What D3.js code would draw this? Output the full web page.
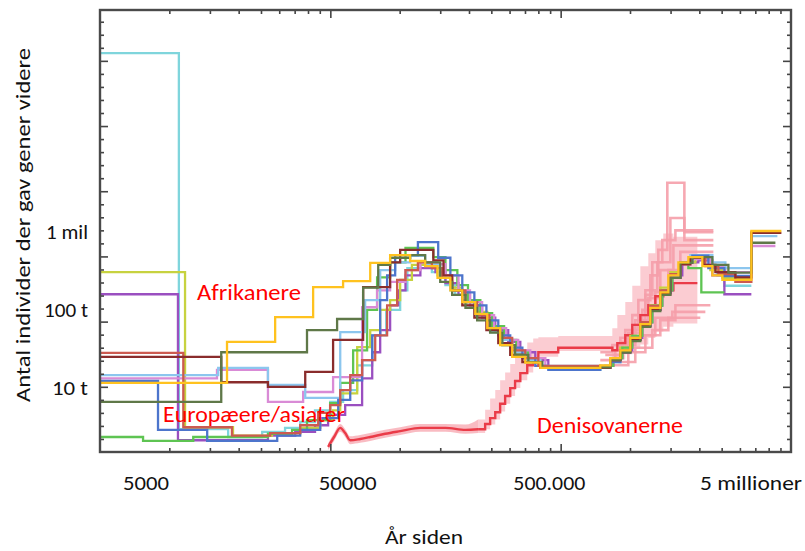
<!DOCTYPE html>
<html><head><meta charset="utf-8">
<script src="https://cdn.jsdelivr.net/npm/d3@7"></script>
<style>
body{margin:0;background:#fff;}
svg{display:block;}
text{font-family:'Liberation Sans Narrow','Carlito','Liberation Sans',sans-serif;}
</style>
</head><body>
<svg id="c" width="805" height="551"></svg>
<script>
// ---------- data (time in thousand years, population in units of 10^4) ----------
const xTickValues = [5, 50, 500, 5000];
const xTickLabels = ["5000", "50000", "500.000", "5 millioner"];
const yTickValues = [1e4, 1e5, 1e6];
const yTickLabels = ["10 t", "100 t", "1 mil"];

const cyanSteps = [[5,6.12],[11.0,0.35],[18.0,0.23],[25.3,0.31],[31.8,0.37],[37.0,0.46],[42.9,0.64],[49.9,0.77],[56.8,0.95],[65.4,1.33],[76.0,1.79],[87.4,2.18],[100.5,2.48],[108,2.82],[123,2.87],[138,2.76],[158,2.56],[174,2.41],[196,2.25],[219,2.06],[247,1.84],[279,1.64],[317,1.49],[362,1.38],[416,1.29],[498,1.26],[743,1.29],[821,1.38],[908,1.53],[1003,1.72],[1109,1.95],[1225,2.21],[1354,2.45],[1497,2.68],[1654,2.90],[1828,2.98],[2124,2.87],[2395,2.71],[2569,2.55],[3364,2.55]];
const yellowGreenSteps = [[5,2.76],[11.7,0.38],[18.9,0.25],[27.9,0.29],[37.0,0.37],[45.2,0.49],[51.4,0.64],[55.2,0.90],[65.4,1.61],[74.5,1.87],[82.3,2.18],[90.9,2.33],[100.5,2.64],[113,2.87],[129,2.91],[146,2.71],[166,2.52],[187,2.33],[213,2.15],[240,1.93],[273,1.72],[308,1.53],[351,1.41],[408,1.30],[743,1.32],[821,1.44],[908,1.60],[1003,1.78],[1109,1.99],[1225,2.25],[1354,2.52],[1497,2.76],[1654,2.91],[1922,2.98],[2233,2.79],[2518,2.67],[3364,2.67]];
const purpleSteps = [[5,2.42],[10.9,0.18],[26.8,0.25],[35.2,0.31],[42.9,0.41],[48.9,0.57],[58.0,0.72],[68.7,1.13],[76.0,1.53],[82.3,1.87],[90.9,2.25],[98.5,2.48],[106,2.71],[123,2.82],[143,2.76],[158,2.59],[180,2.41],[202,2.25],[228,2.06],[260,1.87],[296,1.69],[334,1.53],[388,1.41],[442,1.29],[781,1.32],[846,1.44],[926,1.56],[1023,1.75],[1131,1.99],[1250,2.25],[1381,2.48],[1527,2.71],[1687,2.91],[1980,2.94],[2278,2.71],[2569,2.42],[3364,2.42]];
const redSteps = [[5,1.52],[11.5,0.38],[18.7,0.25],[27.4,0.29],[37.0,0.41],[44.3,0.60],[49.9,0.72],[55.2,0.95],[61.0,1.18],[68.7,1.41],[78.3,1.79],[88.2,2.25],[97.5,2.64],[106,2.79],[120,2.91],[138,2.82],[153,2.67],[169,2.48],[193,2.30],[217,2.10],[245,1.90],[273,1.75],[308,1.56],[351,1.44],[400,1.32],[743,1.30],[821,1.41],[908,1.56],[1003,1.75],[1109,1.99],[1225,2.24],[1354,2.48],[1497,2.73],[1654,2.90],[1828,2.98],[2124,2.85],[2419,2.73],[2867,2.61],[3364,3.37],[4452,3.37]];
const darkRedSteps = [[5,1.46],[16.8,1.07],[26.8,1.00],[38.9,1.23],[51.4,1.72],[69.4,2.53],[90.9,2.91],[100.5,3.10],[140,2.94],[155,2.71],[169,2.48],[187,2.25],[211,2.06],[238,1.87],[268,1.67],[302,1.49],[341,1.38],[408,1.29],[743,1.29],[821,1.41],[908,1.53],[1003,1.72],[1109,1.93],[1225,2.18],[1354,2.42],[1497,2.67],[1654,2.88],[1828,2.98],[2082,2.87],[2348,2.76],[2867,2.68],[3364,3.36],[4542,3.36]];
const lightBlueSteps = [[5,1.18],[16.3,1.29],[26.8,1.03],[38.9,0.83],[55.2,1.84],[70.8,2.33],[82.3,2.79],[95.6,2.91],[111,3.01],[129,2.87],[147,2.67],[166,2.48],[187,2.30],[213,2.10],[240,1.90],[273,1.72],[308,1.53],[351,1.41],[408,1.32],[743,1.32],[821,1.44],[908,1.56],[1003,1.75],[1109,1.95],[1225,2.21],[1354,2.45],[1497,2.68],[1654,2.91],[1828,3.02],[2278,2.91],[2595,2.82],[3364,3.31],[4364,3.31]];
const blueSteps = [[5,1.09],[8.93,0.34],[14.6,0.17],[29.4,0.25],[37.0,0.34],[45.2,0.52],[54.1,0.80],[61.0,1.10],[68.7,1.41],[76.0,1.79],[82.3,2.33],[88.2,2.71],[95.6,3.02],[120,3.22],[147,2.98],[166,2.71],[187,2.45],[211,2.25],[238,2.02],[268,1.79],[302,1.60],[341,1.44],[388,1.32],[442,1.26],[743,1.29],[821,1.38],[908,1.53],[1003,1.72],[1109,1.93],[1225,2.18],[1354,2.44],[1497,2.68],[1654,2.91],[1865,3.01],[2188,2.82],[2569,2.70],[3364,2.70]];
const goldSteps = [[5,1.06],[17.8,1.69],[28.8,2.07],[42.1,2.53],[56.8,2.62],[74.5,2.90],[90.9,3.02],[111,2.93],[129,2.85],[146,2.67],[166,2.48],[187,2.30],[213,2.12],[240,1.90],[273,1.64],[308,1.46],[351,1.37],[408,1.29],[743,1.33],[821,1.44],[908,1.56],[1003,1.75],[1109,1.96],[1225,2.21],[1354,2.45],[1467,2.71],[1622,2.91],[1792,2.99],[2061,2.85],[2278,2.71],[2518,2.64],[3364,3.39],[4542,3.39]];
const oliveSteps = [[5,0.77],[16.8,1.53],[39.6,1.87],[53.5,2.04],[69.4,2.52],[80.7,2.87],[90.9,2.98],[111,3.02],[129,2.91],[150,2.61],[169,2.41],[193,2.21],[217,2.02],[247,1.83],[279,1.64],[317,1.49],[362,1.38],[416,1.29],[743,1.30],[821,1.41],[908,1.53],[1003,1.70],[1109,1.92],[1225,2.16],[1354,2.41],[1497,2.67],[1654,2.90],[1865,2.99],[2278,2.87],[2674,2.75],[3364,3.21],[4278,3.21]];
const greenSteps = [[5,0.23],[7.69,0.17],[12.7,0.23],[26.8,0.28],[34.1,0.34],[39.6,0.49],[49.9,0.75],[55.2,1.06],[62.8,1.56],[72.2,2.18],[79.8,2.68],[90.9,2.91],[106,3.13],[140,2.99],[158,2.79],[178,2.56],[198,2.33],[224,2.13],[252,1.93],[284,1.72],[321,1.53],[362,1.41],[408,1.29],[781,1.32],[846,1.44],[926,1.60],[1023,1.78],[1131,1.99],[1250,2.24],[1381,2.48],[1527,2.71],[1654,2.91],[1792,2.82],[2040,2.45],[2569,2.45]];
const orchidSteps = [[5,1.13],[16.1,1.26],[26.8,0.77],[38.1,0.92],[51.4,1.15],[68.7,2.22],[79.8,2.48],[90.9,2.61],[106,2.79],[123,2.91],[143,2.88],[158,2.71],[180,2.48],[202,2.30],[228,2.10],[257,1.90],[290,1.72],[327,1.56],[369,1.44],[429,1.30],[743,1.32],[821,1.41],[908,1.55],[1003,1.73],[1109,1.95],[1225,2.19],[1354,2.44],[1497,2.68],[1654,2.88],[1828,2.96],[2233,2.85],[2595,2.76],[3364,3.16],[4278,3.16]];

// Denisovan: main estimate and bootstrap spread
const denTime  = [48.9,51.9,55.2,58.0,61.0,67.4,74.5,86.5,100.5,123,158,193,219,235,247,260,273,287,302,317,334,358,380,400,488,838,881,954,1023,1109,1201,1288,1395,1543,1961];
const denMid   = [0.08,0.23,0.37,0.29,0.18,0.20,0.23,0.28,0.32,0.37,0.37,0.34,0.35,0.43,0.52,0.61,0.74,0.86,0.98,1.09,1.21,1.33,1.44,1.53,1.60,1.56,1.67,1.79,1.95,2.10,2.25,2.39,2.48,2.59,2.59];
const denUpper = [0.13,0.29,0.43,0.35,0.24,0.26,0.29,0.34,0.38,0.43,0.43,0.42,0.50,0.65,0.82,0.95,1.10,1.22,1.35,1.47,1.58,1.68,1.74,1.76,1.78,1.90,2.10,2.30,2.55,2.85,3.05,3.25,3.35,3.30,3.25];
const denLower = [0.03,0.17,0.31,0.23,0.12,0.14,0.17,0.22,0.26,0.31,0.31,0.28,0.29,0.35,0.42,0.50,0.62,0.74,0.86,0.98,1.10,1.22,1.35,1.46,1.55,1.40,1.42,1.50,1.58,1.65,1.75,1.85,1.92,1.97,2.00];
const boot1 = [[743,1.53],[838,1.64],[954,1.87],[1087,2.33],[1225,2.71],[1327,3.10],[1452,4.13],[1722,3.25],[2301,3.25]];
const boot2 = [[781,1.49],[908,1.75],[1023,2.10],[1166,2.48],[1314,2.91],[1497,3.59],[1722,3.37],[2301,3.37]];
const boot3 = [[821,1.44],[926,1.69],[1054,2.02],[1201,2.36],[1354,2.79],[1543,3.17],[2301,3.17]];
const boot4 = [[743,1.41],[863,1.56],[983,1.83],[1131,2.18],[1288,2.45],[1467,2.79],[1654,3.07],[2301,3.07]];
const boot5 = [[838,1.33],[983,1.53],[1166,1.79],[1354,2.02],[1574,2.25],[2233,2.25]];
const boot6 = [[890,1.38],[1054,1.60],[1250,1.87],[1467,2.06],[2020,2.06]];
const boot7 = [[1109,1.79],[1288,2.06],[1527,2.15],[2124,2.15]];
const boot8 = [[954,1.64],[1054,1.95],[1166,2.41],[1250,2.91],[1381,3.25],[1574,3.40],[2301,3.40]];

// ---------- layout ----------
const L = 100, R = 791, T = 10, B = 452;
const x = d3.scaleLog().domain([5, 5000]).range([L, R]);
const y = d3.scaleLinear().domain([0, 6.78]).range([B, T]);
const xLab = d3.scaleLog().domain([5, 5000]).range([146, 751]);
const yLab = d3.scaleLog().domain([1e4, 1e6]).range([388, 232]);

const svg = d3.select('#c');
svg.append('rect').attr('width', 805).attr('height', 551).attr('fill', '#fff');
svg.append('defs').append('clipPath').attr('id', 'clip')
  .append('rect').attr('x', L).attr('y', T).attr('width', R - L).attr('height', B - T);

const plot = svg.append('g').attr('clip-path', 'url(#clip)');
const stepLine = d3.line().x(d => x(d[0])).y(d => y(d[1])).curve(d3.curveStepAfter);
const smoothLine = d3.line().x(d => x(d[0])).y(d => y(d[1])).curve(d3.curveMonotoneX);
const bandStep = d3.area().x(d => x(d[0])).y0(d => y(d[1])).y1(d => y(d[2])).curve(d3.curveStepAfter);
const bandSmooth = d3.area().x(d => x(d[0])).y0(d => y(d[1])).y1(d => y(d[2])).curve(d3.curveMonotoneX);

const denBand = denTime.map((t, i) => [t, denLower[i], denUpper[i]]);
const denLine = denTime.map((t, i) => [t, denMid[i]]);
const split = 12;

plot.append('path').attr('d', bandSmooth(denBand.slice(0, split + 1)))
  .attr('fill', '#f58d9a').attr('opacity', 0.6);
plot.append('path').attr('d', bandStep(denBand.slice(split)))
  .attr('fill', '#f7a2ad').attr('opacity', 0.55);

[boot1, boot2, boot3, boot4, boot5, boot6, boot7, boot8].forEach(b => {
  plot.append('path').attr('d', stepLine(b)).attr('fill', 'none')
    .attr('stroke', '#f59faa').attr('stroke-width', 2.6).attr('opacity', 0.9);
});

plot.append('path').attr('d', smoothLine(denLine.slice(0, split + 1))).attr('fill', 'none')
  .attr('stroke', '#ea3b48').attr('stroke-width', 2.4);
plot.append('path').attr('d', stepLine(denLine.slice(split))).attr('fill', 'none')
  .attr('stroke', '#ea3b48').attr('stroke-width', 2.4);

const humans = [
  [cyanSteps, '#7fd5dc'], [purpleSteps, '#9a4fc0'], [yellowGreenSteps, '#c7d23f'],
  [greenSteps, '#5ec452'], [orchidSteps, '#d98bd6'], [lightBlueSteps, '#8cc6ee'],
  [blueSteps, '#4d75cc'], [redSteps, '#cc5a50'], [darkRedSteps, '#8a2c2c'],
  [oliveSteps, '#5f7848'], [goldSteps, '#ffc21f']
];
humans.forEach(([d, c]) => {
  plot.append('path').attr('d', stepLine(d)).attr('fill', 'none')
    .attr('stroke', c).attr('stroke-width', 2.3).attr('stroke-linejoin', 'miter');
});

// ---------- axes (ticks inward on all four sides) ----------
const decades = [5, 50, 500];
const mults = [2, 3, 4, 5, 6, 7, 8, 9];
const xMinor = decades.flatMap(d => mults.map(m => d * m));
const xMajor = [50, 500];
const yAll = d3.range(1, 34).map(i => i * 0.2);
const yMajor = [1, 2, 3, 4, 5, 6];
const yMinor = yAll.filter(v => Math.abs(v - Math.round(v)) > 1e-6);

function styleAxis(g) {
  g.select('.domain').remove();
  g.selectAll('.tick line').attr('stroke', '#444').attr('stroke-width', 1.6);
  g.selectAll('.tick text').remove();
}
const ax = svg.append('g');
ax.append('g').attr('transform', `translate(0,${B})`).call(d3.axisBottom(x).tickValues(xMinor).tickSize(-4)).call(styleAxis);
ax.append('g').attr('transform', `translate(0,${B})`).call(d3.axisBottom(x).tickValues(xMajor).tickSize(-8)).call(styleAxis);
ax.append('g').attr('transform', `translate(0,${T})`).call(d3.axisTop(x).tickValues(xMinor).tickSize(-4)).call(styleAxis);
ax.append('g').attr('transform', `translate(0,${T})`).call(d3.axisTop(x).tickValues(xMajor).tickSize(-8)).call(styleAxis);
ax.append('g').attr('transform', `translate(${L},0)`).call(d3.axisLeft(y).tickValues(yMinor).tickSize(-4)).call(styleAxis);
ax.append('g').attr('transform', `translate(${L},0)`).call(d3.axisLeft(y).tickValues(yMajor).tickSize(-8)).call(styleAxis);
ax.append('g').attr('transform', `translate(${R},0)`).call(d3.axisRight(y).tickValues(yMinor).tickSize(-4)).call(styleAxis);
ax.append('g').attr('transform', `translate(${R},0)`).call(d3.axisRight(y).tickValues(yMajor).tickSize(-8)).call(styleAxis);

svg.append('rect').attr('x', L).attr('y', T).attr('width', R - L).attr('height', B - T)
  .attr('fill', 'none').attr('stroke', '#4a4a4a').attr('stroke-width', 2.4);

// ---------- text ----------
function txt(s, px, py, size, color, len, anchor) {
  const t = svg.append('text').attr('x', px).attr('y', py).attr('font-size', size)
    .attr('fill', color).attr('text-anchor', anchor || 'start').text(s);
  if (len) t.attr('textLength', len).attr('lengthAdjust', 'spacingAndGlyphs');
  return t;
}
const xLabWidths = [46, 58, 72, 102];
xTickValues.forEach((v, i) => txt(xTickLabels[i], xLab(v), 490, 21, '#111', xLabWidths[i], 'middle'));
const yLabWidths = [36, 44, 42];
yTickValues.forEach((v, i) => txt(yTickLabels[i], 88, yLab(v) + 7, 21, '#111', yLabWidths[i], 'end'));

txt('År siden', 424, 544, 21, '#111', 78, 'middle');
svg.append('text').attr('transform', 'translate(30,225) rotate(-90)').attr('font-size', 21)
  .attr('fill', '#111').attr('text-anchor', 'middle')
  .attr('textLength', 354).attr('lengthAdjust', 'spacingAndGlyphs')
  .text('Antal individer der gav gener videre');

txt('Afrikanere', 197, 300, 23, '#ff0000', 104);
txt('Europæere/asiater', 163, 422, 23, '#ff0000', 182);
txt('Denisovanerne', 537, 433, 23, '#ff0000', 146);
</script>
</body></html>
